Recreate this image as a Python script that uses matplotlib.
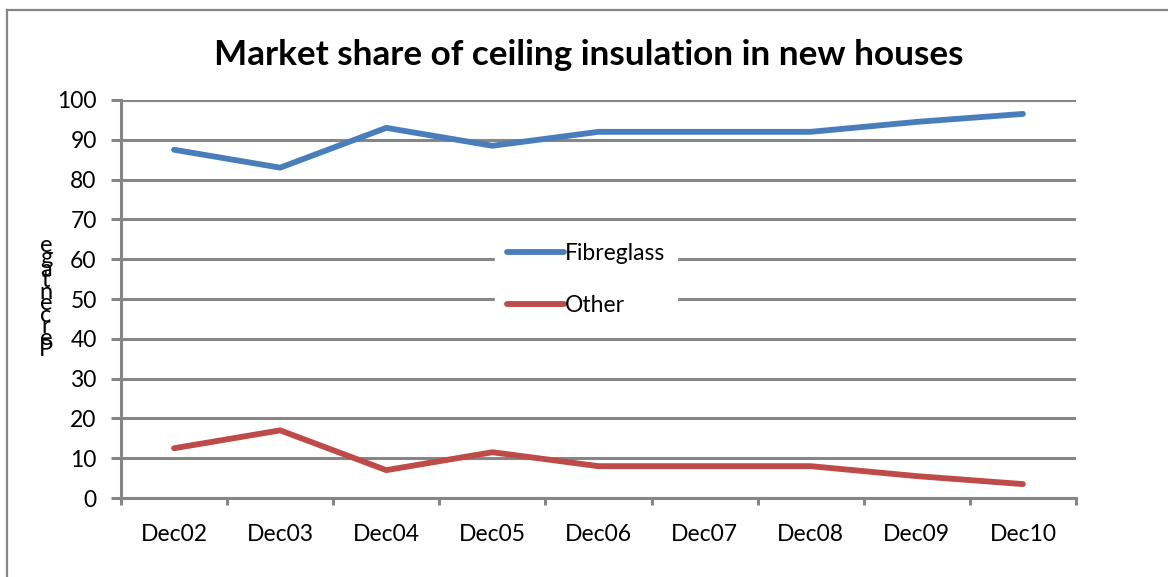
import matplotlib.pyplot as plt
from matplotlib.lines import Line2D

# data
years = ["Dec02", "Dec03", "Dec04", "Dec05", "Dec06", "Dec07", "Dec08", "Dec09", "Dec10"]
fibreglass = [87.5, 83, 93, 88.5, 92, 92, 92, 94.5, 96.5]
other = [12.5, 17, 7, 11.5, 8, 8, 8, 5.5, 3.5]
yticks = [0, 10, 20, 30, 40, 50, 60, 70, 80, 90, 100]

plt.rcParams['font.family'] = ['Lato', 'DejaVu Sans']
grey = "#868686"

fig = plt.figure(figsize=(11.68, 5.77), dpi=100)
ax = fig.add_axes([0.1036, 0.1369, 0.8176, 0.6898])

x = range(len(years))
ax.plot(x, fibreglass, color="#4A7EBB", lw=4.2, solid_capstyle="round", label="Fibreglass", zorder=3)
ax.plot(x, other, color="#BE4B48", lw=4.2, solid_capstyle="round", label="Other", zorder=3)

ax.set_xlim(-0.5, len(years) - 0.5)
ax.set_ylim(0, 100)
ax.set_yticks(yticks)
ax.set_xticks(list(x))
ax.set_xticklabels(years)
ax.set_xticks([i - 0.5 for i in range(len(years) + 1)], minor=True)

ax.grid(axis="y", color=grey, lw=2.2)
ax.set_axisbelow(True)
for s in ["top", "right"]:
    ax.spines[s].set_visible(False)
for s in ["left", "bottom"]:
    ax.spines[s].set_color(grey)
    ax.spines[s].set_linewidth(2.2)

ax.tick_params(axis="y", length=7.5, width=2.2, color=grey, pad=10, labelsize=16.5)
ax.tick_params(axis="x", which="major", length=0, pad=19, labelsize=16.5)
ax.tick_params(axis="x", which="minor", length=5, width=2.2, color=grey)

fig.suptitle("Market share of ceiling insulation in new houses", fontsize=25.3,
             fontweight="bold", x=0.504, y=0.905, va="center")

# y label drawn as stacked, overlapping letters like the source
ylab = "Percentage"
n = len(ylab)
for i, ch in enumerate(ylab):
    ypix = 350 - i * (104 / (n - 1))
    fig.text(0.0394, 1 - ypix / 577, ch, fontsize=17, ha="center", va="center")

leg = ax.legend(loc="center", bbox_to_anchor=(0.487, 0.549), frameon=True,
                fancybox=False, facecolor="white", edgecolor="white", framealpha=1,
                fontsize=16.5, handlelength=2.5, handletextpad=0.05, labelspacing=1.33,
                borderpad=0.5)
leg.set_zorder(4)

# outer chart border (top and left edges visible)
fig.add_artist(Line2D([0.006, 1], [0.9827, 0.9827], color=grey, lw=1.6, transform=fig.transFigure))
fig.add_artist(Line2D([0.006, 0.006], [0, 0.9827], color=grey, lw=1.6, transform=fig.transFigure))

fig.savefig("out.png", dpi=100)
